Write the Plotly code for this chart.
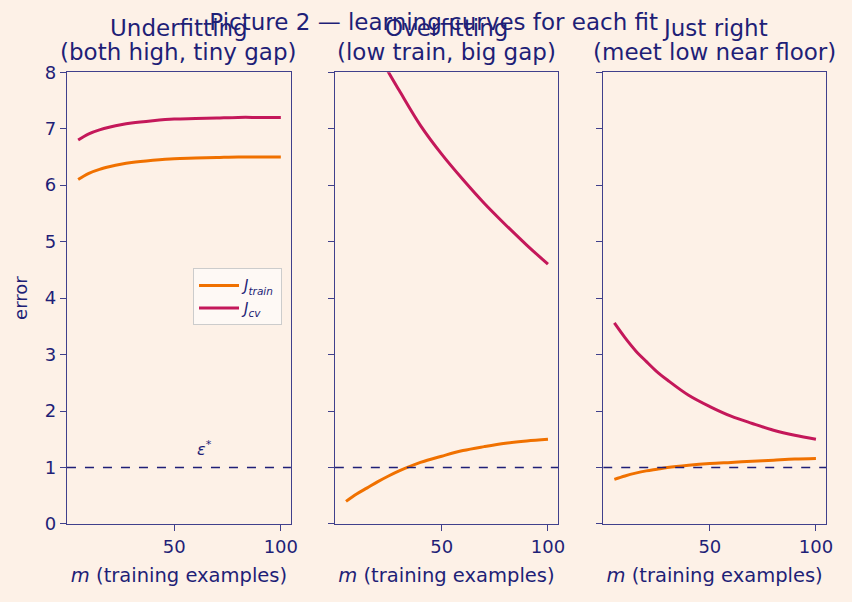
import plotly.graph_objects as go
from plotly.subplots import make_subplots

m = [5, 10, 15, 20, 25, 30, 40, 50, 60, 70, 80, 90, 100]

under_train = [6.10, 6.21, 6.28, 6.33, 6.37, 6.40, 6.44, 6.47, 6.48, 6.49, 6.50, 6.50, 6.50]
under_cv    = [6.80, 6.91, 6.98, 7.03, 7.07, 7.10, 7.14, 7.17, 7.18, 7.19, 7.20, 7.20, 7.20]
over_train  = [0.40, 0.53, 0.64, 0.75, 0.85, 0.94, 1.09, 1.20, 1.30, 1.37, 1.43, 1.47, 1.50]
over_cv     = [9.50, 9.10, 8.70, 8.35, 8.00, 7.68, 7.06, 6.55, 6.10, 5.68, 5.30, 4.94, 4.60]
right_train = [0.79, 0.85, 0.90, 0.94, 0.97, 1.00, 1.04, 1.07, 1.09, 1.11, 1.13, 1.15, 1.16]
right_cv    = [3.56, 3.30, 3.07, 2.88, 2.70, 2.55, 2.28, 2.08, 1.91, 1.78, 1.66, 1.57, 1.50]

title_top = ["Underfitting", "Overfitting", "Just right"]
title_sub = ["(both high, tiny gap)", "(low train, big gap)", "(meet low near floor)"]
epsilon = 1.0
y_ticks = [0, 1, 2, 3, 4, 5, 6, 7, 8]
x_ticks = [50, 100]

BG = "#fdf1e7"
NAVY = "#1f1f77"
SPINE = "#40408c"
ORANGE = "#f07100"
CRIMSON = "#c4185a"

fig = make_subplots(rows=1, cols=3, shared_yaxes=True)

panels = [(under_train, under_cv), (over_train, over_cv), (right_train, right_cv)]
domains = [(0.0786, 0.3415), (0.393, 0.655), (0.708, 0.9695)]

for i, (tr, cv) in enumerate(panels):
    c = i + 1
    fig.add_trace(go.Scatter(x=m, y=tr, mode="lines", line=dict(color=ORANGE, width=3, shape="spline"),
                             name="<i>J<sub>train</sub></i>", showlegend=(i == 0)), row=1, col=c)
    fig.add_trace(go.Scatter(x=m, y=cv, mode="lines", line=dict(color=CRIMSON, width=3, shape="spline"),
                             name="<i>J<sub>cv</sub></i>", showlegend=(i == 0)), row=1, col=c)
    fig.add_trace(go.Scatter(x=[-0.25, 104.75], y=[epsilon, epsilon], mode="lines",
                             line=dict(color=NAVY, width=1.3, dash="dash"), showlegend=False,
                             hoverinfo="skip"), row=1, col=c)
    xa = "xaxis" if c == 1 else f"xaxis{c}"
    fig.layout[xa].update(domain=list(domains[i]))
    xd = f"x{'' if c == 1 else c} domain"
    fig.add_annotation(text=title_top[i], xref=xd, yref="paper", x=0.5, y=1 - 28 / 602,
                       xanchor="center", yanchor="middle", showarrow=False,
                       font=dict(size=23, color=NAVY))
    fig.add_annotation(text=title_sub[i], xref=xd, yref="paper", x=0.5, y=1 - 52 / 602,
                       xanchor="center", yanchor="middle", showarrow=False,
                       font=dict(size=23, color=NAVY))

fig.add_annotation(text="<i>ε</i><sup>*</sup>", xref="x", yref="y", x=64, y=1.12,
                   xanchor="center", yanchor="bottom", showarrow=False,
                   font=dict(size=16, color=NAVY))

fig.update_xaxes(range=[-0.25, 104.75], tickvals=x_ticks, ticks="outside", ticklen=6,
                 tickcolor=SPINE, tickwidth=1.2, showline=True, linecolor=SPINE, linewidth=1.3, mirror=True,
                 showgrid=False, zeroline=False, tickfont=dict(size=18, color=NAVY), automargin=False,
                 title=dict(text="<i>m</i> (training examples)", font=dict(size=19.5, color=NAVY), standoff=12))
fig.update_yaxes(range=[0, 8], tickvals=y_ticks, ticks="outside", ticklen=6,
                 tickcolor=SPINE, tickwidth=1.2, showline=True, linecolor=SPINE, linewidth=1.3, mirror=True,
                 showgrid=False, zeroline=False, tickfont=dict(size=18, color=NAVY), automargin=False,
                 domain=[0.1296, 0.880])
fig.update_yaxes(title=dict(text="error", font=dict(size=18, color=NAVY), standoff=12), row=1, col=1)

fig.update_layout(
    width=852, height=602,
    paper_bgcolor=BG, plot_bgcolor=BG,
    margin=dict(l=0, r=0, t=0, b=0),
    font=dict(family="DejaVu Sans", color=NAVY),
    title=dict(text="Picture 2 — learning curves for each fit", x=0.509, xanchor="center",
               y=1 - 22 / 602, yanchor="middle", font=dict(size=23, color=NAVY)),
    legend=dict(x=0.331, xanchor="right", y=0.507, yanchor="middle",
                bgcolor="rgba(255,255,255,0.6)", bordercolor="#cccccc", borderwidth=1,
                itemwidth=40, font=dict(size=15, color=NAVY)),
    showlegend=True,
)

fig.write_html("out.html")
